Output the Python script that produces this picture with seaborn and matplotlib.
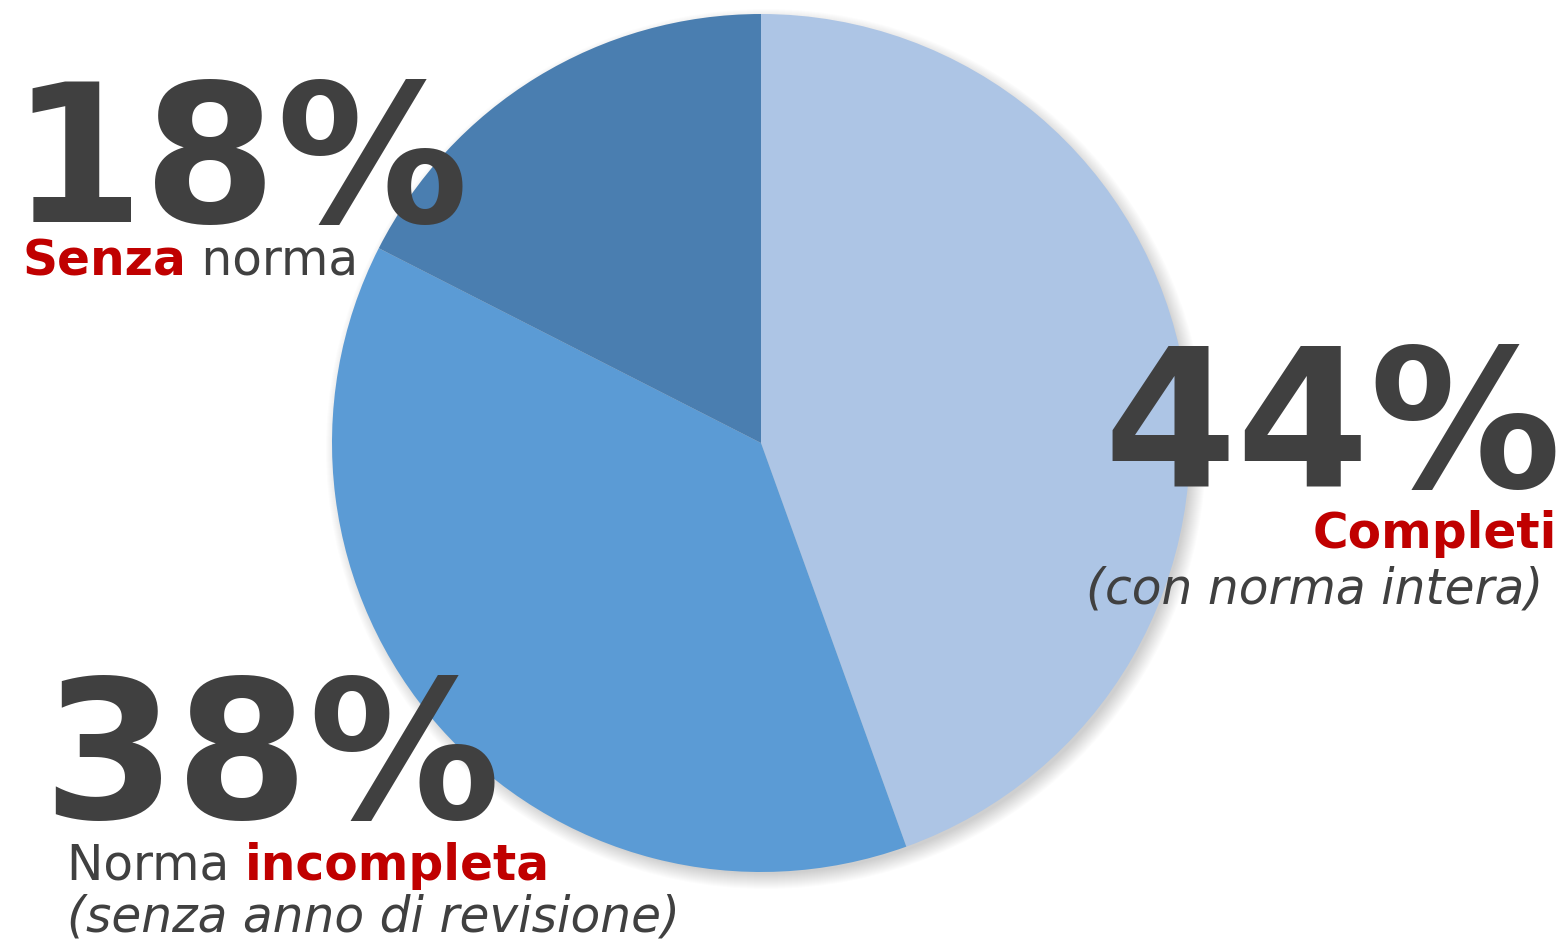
#pie of the share of records with complete / incomplete / missing norm
import matplotlib.pyplot as plt
import matplotlib.patches as mpatches
import seaborn as sns

# data
categorie = ['Completi', 'Norma incompleta', 'Senza norma']
quote = [44.5, 38.0, 17.5]
etichette = ['44%', '38%', '18%']
colori = ['#adc5e5', '#5b9bd5', '#4a7eb0']

sns.set_theme(style='white')
plt.rcParams['font.family'] = ['DejaVu Sans']

W, H = 1563, 942
fig = plt.figure(figsize=(W / 100, H / 100), dpi=100)
ax = fig.add_axes([0, 0, 1, 1])

cx, cy, r = 761, H - 443, 429

# soft shadow behind the pie, mostly lower right
for i in range(16):
    ax.add_patch(mpatches.Circle((cx + 5, cy - 6), r - 4 + i * 1.0,
                                 color='black', alpha=0.010, lw=0, zorder=0))

ax.pie(quote, colors=colori, startangle=90, counterclock=False,
       center=(cx, cy), radius=r, frame=True,
       wedgeprops=dict(linewidth=0, zorder=1))
ax.set_xlim(0, W)
ax.set_ylim(0, H)
ax.set_aspect('equal')
ax.axis('off')

grigio = '#404040'
rosso = '#c00000'
big = 138
small = 35


def Y(y):
    return H - y


def two_part(x, y, a, b, ca, cb, wa, wb):
    t1 = ax.text(x, Y(y), a, fontsize=small, color=ca, fontweight=wa,
                 ha='left', va='baseline', zorder=5)
    ax.annotate(b, xy=(1, 0), xycoords=t1, xytext=(0, 0),
                textcoords='offset points', fontsize=small, color=cb,
                fontweight=wb, ha='left', va='bottom', zorder=5)


# 18%
ax.text(10, Y(222), etichette[2], fontsize=big, fontweight='bold',
        color=grigio, ha='left', va='baseline', zorder=5)
two_part(22, 275, 'Senza', ' norma', rosso, grigio, 'bold', 'normal')

# 44%
ax.text(1562, Y(487), etichette[0], fontsize=big, fontweight='bold',
        color=grigio, ha='right', va='baseline', zorder=5)
ax.text(1557, Y(548), categorie[0], fontsize=small, fontweight='bold',
        color=rosso, ha='right', va='baseline', zorder=5)
ax.text(1543, Y(603), '(con norma intera)', fontsize=small, style='italic',
        color=grigio, ha='right', va='baseline', zorder=5)

# 38%
ax.text(42, Y(818), etichette[1], fontsize=big, fontweight='bold',
        color=grigio, ha='left', va='baseline', zorder=5)
two_part(67, 880, 'Norma ', 'incompleta', grigio, rosso, 'normal', 'bold')
ax.text(67, Y(932), '(senza anno di revisione)', fontsize=small, style='italic',
        color=grigio, ha='left', va='baseline', zorder=5)

fig.savefig('out.png', dpi=100, facecolor='white')
